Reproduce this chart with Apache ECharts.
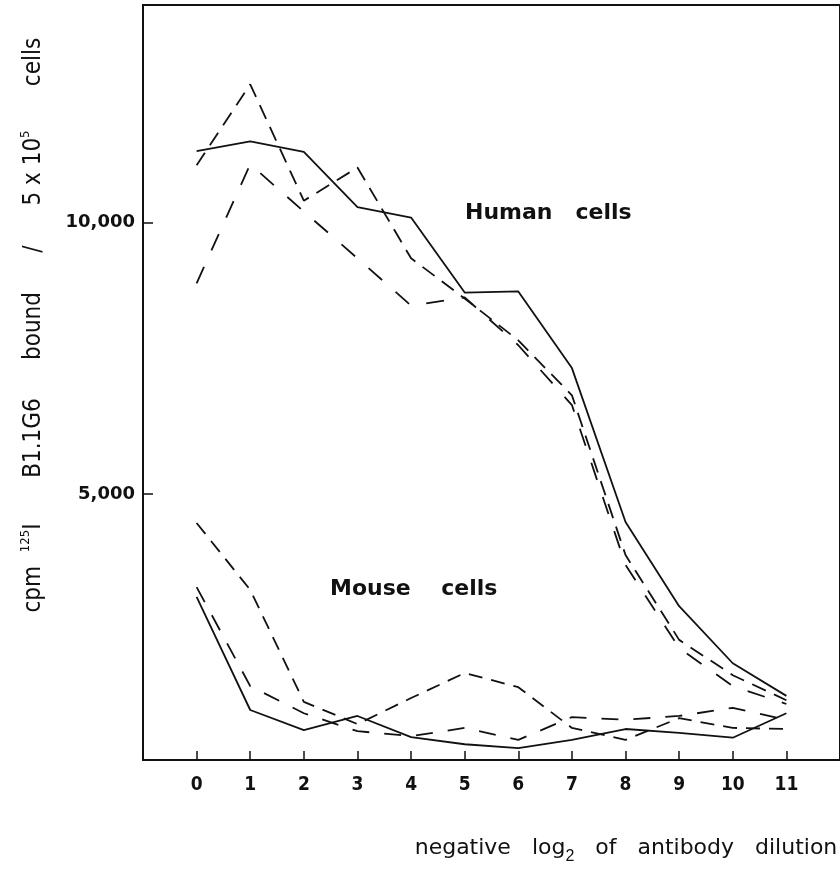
<!DOCTYPE html>
<html>
<head>
<meta charset="utf-8">
<script src="https://cdn.jsdelivr.net/npm/echarts@6/dist/echarts.min.js"></script>
<style>
  html, body { margin: 0; padding: 0; background: #fff; }
  #chart { width: 840px; height: 881px; }
</style>
</head>
<body>
<div id="chart"></div>
<script>
// dilution steps (negative log2 of antibody dilution)
var doses = [0, 1, 2, 3, 4, 5, 6, 7, 8, 9, 10, 11];
var yTicks = [5000, 10000];

// cpm bound, human cells
var humanSolid     = [11310, 11490, 11300, 10280, 10090, 8710, 8730, 7320, 4490, 2940, 1890, 1290];
var humanShortDash = [11050, 12540, 10400, 11010, 9340, 8600, 7830, 6820, 3880, 2320, 1670, 1210];
var humanLongDash  = [8880, 11070, 10200, 9340, 8470, 8620, 7740, 6640, 3700, 2170, 1470, 1140];

// cpm bound, mouse cells
var mouseSolid     = [3110, 1030, 660, 920, 530, 400, 330, 480, 680, 610, 520, 970];
var mouseShortDash = [4470, 3240, 1180, 770, 1250, 1710, 1450, 700, 480, 880, 700, 680];
var mouseLongDash  = [3290, 1470, 970, 640, 550, 700, 480, 900, 850, 920, 1070, 850];

var ink = '#111';
var narrow = '"Liberation Sans Narrow", "DejaVu Sans Condensed", "Liberation Sans", sans-serif';
var cond = '"DejaVu Sans Condensed", "DejaVu Sans", sans-serif';

function pairs(vals) {
  return doses.map(function(d, i) { return [d, vals[i]]; });
}

function line(name, vals, dash) {
  return {
    name: name,
    type: 'line',
    data: pairs(vals),
    symbol: 'none',
    lineStyle: { color: ink, width: 1.8, type: dash || 'solid' },
    z: 3
  };
}

// pieces of the rotated y axis title, placed along the axis
function yTitle(text, y) {
  return {
    type: 'text', x: 34, y: y, rotation: Math.PI / 2,
    style: {
      text: text, fontSize: 24, fontFamily: cond, fill: ink,
      align: 'center', verticalAlign: 'middle',
      rich: { sup: { fontSize: 13, verticalAlign: 'top', lineHeight: 30, fill: ink, fontFamily: cond } }
    }
  };
}

var chart = echarts.init(document.getElementById('chart'), null, { renderer: 'canvas' });
chart.setOption({
  animation: false,
  backgroundColor: '#fff',
  grid: {
    left: 143, top: 5, width: 705, bottom: 121,
    show: true, borderColor: ink, borderWidth: 2, backgroundColor: 'transparent'
  },
  xAxis: {
    type: 'value',
    min: -1, max: 12,
    splitLine: { show: false },
    axisLine: { show: true, onZero: false, lineStyle: { color: ink, width: 2 } },
    axisTick: { show: true, inside: true, length: 9, customValues: doses, lineStyle: { color: ink, width: 1.5 } },
    axisLabel: {
      customValues: doses, margin: 16, color: ink,
      fontSize: 19, fontWeight: 'bold', fontFamily: narrow
    }
  },
  yAxis: {
    type: 'value',
    min: 110, max: 14000,
    splitLine: { show: false },
    axisLine: { show: true, onZero: false, lineStyle: { color: ink, width: 2 } },
    axisTick: { show: true, inside: true, length: 10, customValues: yTicks, lineStyle: { color: ink, width: 1.5 } },
    axisLabel: {
      customValues: yTicks, margin: 8, color: ink,
      fontSize: 18, fontWeight: 'bold', fontFamily: '"DejaVu Sans", sans-serif',
      formatter: function(v) { return v.toLocaleString('en-US'); }
    }
  },
  series: [
    line('human solid', humanSolid),
    line('human short dash', humanShortDash, [15, 9]),
    line('human long dash', humanLongDash, [18, 18]),
    line('mouse solid', mouseSolid),
    line('mouse short dash', mouseShortDash, [14, 9]),
    line('mouse long dash', mouseLongDash, [17, 15])
  ],
  graphic: [
    {
      type: 'text', left: 465, top: 202,
      style: { text: 'Human   cells', fontSize: 22, fontWeight: 'bold', fontFamily: '"DejaVu Sans", sans-serif', fill: ink }
    },
    {
      type: 'text', left: 330, top: 578,
      style: { text: 'Mouse    cells', fontSize: 22, fontWeight: 'bold', fontFamily: '"DejaVu Sans", sans-serif', fill: ink }
    },
    yTitle('cpm  {sup|125}I', 568),
    yTitle('B1.1G6', 438),
    yTitle('bound', 326),
    yTitle('/', 249),
    yTitle('5 x 10{sup|5}', 168),
    yTitle('cells', 62),
    {
      type: 'text', x: 626, y: 848,
      style: {
        text: 'negative   log{sub|2}   of   antibody   dilution',
        fontSize: 22, fontFamily: '"DejaVu Sans", sans-serif', fill: ink,
        align: 'center', verticalAlign: 'middle',
        rich: {
          sub: { fontSize: 16, verticalAlign: 'bottom', lineHeight: 34, fill: ink }
        }
      }
    }
  ]
});
</script>
</body>
</html>
